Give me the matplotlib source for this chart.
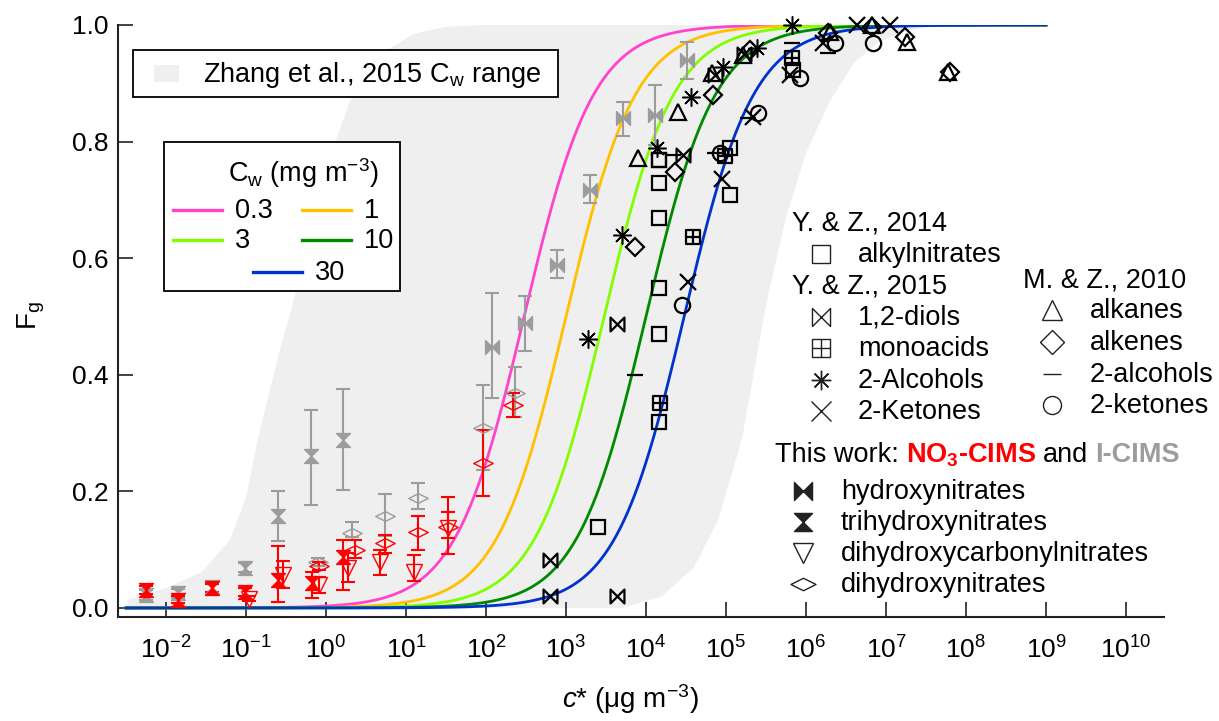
import numpy as np
import matplotlib
matplotlib.use('Agg')
import matplotlib.pyplot as plt
from matplotlib.path import Path
from matplotlib.patches import Rectangle
from matplotlib.lines import Line2D
from matplotlib.ticker import FixedLocator, FuncFormatter, NullLocator, MultipleLocator, FormatStrFormatter

plt.rcParams['font.family'] = ['Liberation Sans', 'DejaVu Sans']
plt.rcParams['mathtext.fontset'] = 'custom'
plt.rcParams['mathtext.rm'] = 'Liberation Sans'
plt.rcParams['mathtext.it'] = 'Liberation Sans:italic'
plt.rcParams['mathtext.bf'] = 'Liberation Sans:bold'

# --- model curves: Fg = 1 / (1 + Cw / c*) ---
cw_mg = [0.3, 1, 3, 10, 30]
cw_labels = ['0.3', '1', '3', '10', '30']
cw_colors = ['#ff44cc', '#ffc000', '#80ff00', '#008a00', '#0033cc']

# --- Zhang et al. 2015 Cw range (edges as log10 c*, Fg) ---
band_left_lg = [-2.48, -2.0, -1.55, -1.2, -1.0, -0.85, -0.6, -0.4, -0.14, 0.3, 0.5, 0.8, 1.1, 1.5, 2.0]
band_left_fg = [0.014, 0.034, 0.062, 0.117, 0.19, 0.29, 0.43, 0.53, 0.70, 0.87, 0.925, 0.96, 0.985, 0.997, 1.0]
band_right_lg = [3.7, 4.2, 4.6, 4.9, 5.2, 5.5, 5.75, 6.0, 6.3, 6.6, 6.9, 7.2, 7.6, 8.0]
band_right_fg = [0.0, 0.02, 0.07, 0.15, 0.29, 0.52, 0.67, 0.78, 0.87, 0.935, 0.97, 0.988, 0.998, 1.0]

# --- Y. & Z. 2014 / 2015 (log10 c*, Fg) ---
alkylnitrate_lg = [3.40, 4.16, 4.16, 4.16, 4.16, 4.16, 4.16, 4.16, 5.05, 5.05, 5.84]
alkylnitrate_fg = [0.139, 0.319, 0.47, 0.549, 0.669, 0.729, 0.768, 0.768, 0.789, 0.708, 0.923]
diol_lg = [2.8, 2.8, 3.64, 3.64, 4.46, 4.86, 5.22]
diol_fg = [0.082, 0.021, 0.021, 0.487, 0.777, 0.915, 0.95]
monoacid_lg = [4.18, 4.59, 4.99, 5.83]
monoacid_fg = [0.351, 0.637, 0.775, 0.943]
alcohol2_lg = [3.28, 3.70, 4.14, 4.56, 4.96, 5.39, 5.83]
alcohol2_fg = [0.461, 0.64, 0.789, 0.877, 0.928, 0.96, 1.0]
ketone2_lg = [4.53, 4.95, 5.34, 5.80, 6.21, 6.64, 7.05]
ketone2_fg = [0.56, 0.736, 0.842, 0.914, 0.969, 1.0, 1.0]

# --- M. & Z. 2010 ---
alkane_lg = [3.90, 4.40, 4.83, 5.21, 6.30, 6.83, 7.26, 7.78]
alkane_fg = [0.772, 0.851, 0.918, 0.948, 0.988, 1.0, 0.971, 0.919]
alkene_lg = [3.86, 4.36, 4.84, 5.30, 6.28, 6.83, 7.24, 7.80]
alkene_fg = [0.62, 0.748, 0.88, 0.957, 0.986, 0.997, 0.979, 0.919]
mz_alcohol_lg = [3.86, 4.34, 4.86, 5.28, 5.83, 6.28]
mz_alcohol_fg = [0.40, 0.777, 0.78, 0.84, 0.969, 0.952]
mz_ketone_lg = [4.45, 4.93, 5.40, 5.93, 6.36, 6.84]
mz_ketone_fg = [0.52, 0.78, 0.849, 0.909, 0.969, 0.969]

# --- this work, I-CIMS (grey) ---
i_hn_lg = [2.08, 2.49, 2.89, 3.30, 3.71, 4.11, 4.51]
i_hn_fg = [0.448, 0.489, 0.589, 0.717, 0.840, 0.846, 0.940]
i_hn_lo = [0.36, 0.44, 0.566, 0.695, 0.81, 0.795, 0.907]
i_hn_hi = [0.54, 0.535, 0.614, 0.743, 0.868, 0.897, 0.971]
i_thn_lg = [-2.25, -1.85, -1.43, -1.01, -0.60, -0.19, 0.21]
i_thn_fg = [0.022, 0.025, 0.036, 0.069, 0.158, 0.26, 0.288]
i_thn_lo = [0.014, 0.017, 0.028, 0.061, 0.115, 0.177, 0.202]
i_thn_hi = [0.030, 0.033, 0.044, 0.077, 0.20, 0.34, 0.375]
i_dhn_lg = [-0.10, 0.32, 0.74, 1.15, 1.96, 2.36]
i_dhn_fg = [0.079, 0.129, 0.158, 0.189, 0.309, 0.369]
i_dhn_lo = [0.072, 0.122, 0.124, 0.17, 0.236, 0.328]
i_dhn_hi = [0.086, 0.148, 0.196, 0.214, 0.382, 0.413]

# --- this work, NO3-CIMS (red) ---
n_thn_lg = [-2.25, -1.85, -1.43, -1.01, -0.60, -0.18, 0.21]
n_thn_fg = [0.031, 0.014, 0.034, 0.028, 0.048, 0.043, 0.087]
n_thn_lo = [0.024, 0.008, 0.027, 0.021, 0.010, 0.017, 0.030]
n_thn_hi = [0.038, 0.020, 0.041, 0.035, 0.106, 0.062, 0.117]
n_dhcn_lg = [-0.96, -0.54, -0.09, 0.28, 0.68, 1.10, 1.53]
n_dhcn_fg = [0.016, 0.057, 0.039, 0.068, 0.078, 0.062, 0.137]
n_dhcn_lo = [0.012, 0.035, 0.025, 0.045, 0.057, 0.046, 0.093]
n_dhcn_hi = [0.020, 0.080, 0.053, 0.095, 0.100, 0.090, 0.190]
n_dhn_lg = [-0.09, 0.36, 0.74, 1.15, 1.53, 1.96, 2.34]
n_dhn_fg = [0.072, 0.10, 0.111, 0.13, 0.139, 0.249, 0.348]
n_dhn_lo = [0.065, 0.085, 0.094, 0.10, 0.12, 0.192, 0.328]
n_dhn_hi = [0.079, 0.117, 0.125, 0.158, 0.164, 0.305, 0.369]

GREY = '#9c9c9c'
RED = '#ff0000'
BAND = '#efefef'

# custom marker shapes
M, L, C = Path.MOVETO, Path.LINETO, Path.CLOSEPOLY
bowtie = Path([(-1, -1), (-1, 1), (1, -1), (1, 1), (-1, -1)], [M, L, L, L, C])
hourglass = Path([(-1, 1), (1, 1), (-1, -1), (1, -1), (-1, 1)], [M, L, L, L, C])
flat_diamond = Path([(-1, 0), (0, 0.5), (1, 0), (0, -0.5), (-1, 0)], [M, L, L, L, C])
boxplus = Path([(-1, -1), (1, -1), (1, 1), (-1, 1), (-1, -1), (0, -1), (0, 1), (-1, 0), (1, 0)],
               [M, L, L, L, C, M, L, M, L])
asterisk = (8, 2, 0)

W, H = 1219, 721
fig = plt.figure(figsize=(W / 100, H / 100), dpi=100)
ax = fig.add_axes([118 / W, 1 - 617 / H, (1164 - 118) / W, (617 - 25) / H])

# grey band
bx = [band_left_lg[0]] + band_left_lg + band_right_lg[::-1]
by = [0.0] + band_left_fg + band_right_fg[::-1]
ax.fill(10 ** np.array(bx), by, color=BAND, lw=0, zorder=0)

# partitioning curves
cstar = np.logspace(-2.5, 9, 500)
for cw, col in zip(cw_mg, cw_colors):
    ax.plot(cstar, 1 / (1 + cw * 1000 / cstar), color=col, lw=2.0, zorder=2)


def scatter(lg, fg, marker, ms, mfc='none', mew=1.6, color='black'):
    ax.plot(10 ** np.array(lg), fg, ls='none', marker=marker, ms=ms, mec=color,
            mfc=mfc, mew=mew, zorder=6, clip_on=False)


def witherr(lg, fg, lo, hi, marker, ms, color, filled):
    x = 10 ** np.array(lg)
    fg = np.array(fg)
    yerr = [fg - np.array(lo), np.array(hi) - fg]
    ax.errorbar(x, fg, yerr=yerr, fmt='none', ecolor=color, elinewidth=1.5,
                capsize=5, capthick=1.5, zorder=4)
    ax.plot(x, fg, ls='none', marker=marker, ms=ms, mec=color,
            mfc=color if filled else 'none', mew=1.0, zorder=5)


# I-CIMS first, NO3-CIMS on top
witherr(i_hn_lg, i_hn_fg, i_hn_lo, i_hn_hi, bowtie, 10, GREY, True)
witherr(i_thn_lg, i_thn_fg, i_thn_lo, i_thn_hi, hourglass, 10, GREY, True)
witherr(i_dhn_lg, i_dhn_fg, i_dhn_lo, i_dhn_hi, flat_diamond, 14, GREY, False)
witherr(n_thn_lg, n_thn_fg, n_thn_lo, n_thn_hi, hourglass, 10, RED, True)
witherr(n_dhcn_lg, n_dhcn_fg, n_dhcn_lo, n_dhcn_hi, 'v', 11, RED, False)
witherr(n_dhn_lg, n_dhn_fg, n_dhn_lo, n_dhn_hi, flat_diamond, 14, RED, False)

scatter(alkylnitrate_lg, alkylnitrate_fg, 's', 10.5)
scatter(diol_lg, diol_fg, bowtie, 10)
scatter(monoacid_lg, monoacid_fg, boxplus, 10.5)
scatter(alcohol2_lg, alcohol2_fg, asterisk, 13, mew=1.1)
scatter(ketone2_lg, ketone2_fg, 'x', 12)
scatter(alkane_lg, alkane_fg, '^', 12)
scatter(alkene_lg, alkene_fg, 'D', 9)
scatter(mz_alcohol_lg, mz_alcohol_fg, '_', 12)
scatter(mz_ketone_lg, mz_ketone_fg, 'o', 11)

# axes
ax.set_xscale('log')
ax.set_xlim(10 ** -2.6, 10 ** 10.475)
ax.set_ylim(-0.0155, 1.0)
ax.xaxis.set_major_locator(FixedLocator([10.0 ** k for k in range(-2, 11)]))
ax.xaxis.set_major_formatter(FuncFormatter(lambda v, p: r'$\mathdefault{10^{%d}}$' % round(np.log10(v))))
ax.xaxis.set_minor_locator(NullLocator())
ax.yaxis.set_major_locator(MultipleLocator(0.2))
ax.yaxis.set_major_formatter(FormatStrFormatter('%.1f'))
ax.tick_params(axis='both', direction='in', length=11, width=1.2, labelsize=19, color='#222222')
ax.tick_params(axis='x', pad=14)
ax.tick_params(axis='y', pad=7)
for side in ['top', 'right']:
    ax.spines[side].set_visible(False)
for side in ['left', 'bottom']:
    ax.spines[side].set_linewidth(1.5)
    ax.spines[side].set_color('#222222')

ax.set_ylabel(r'F$_\mathrm{g}$', fontsize=20)
ax.yaxis.set_label_coords(-0.068, 0.51)
ax.set_xlabel(r'$\mathit{c}$* (μg m$^{-3}$)', fontsize=20)
ax.xaxis.set_label_coords(0.49, -0.11)


# legend helpers in pixel space
def fx(px):
    return px / W


def fy(py):
    return 1 - py / H


def key(px, py, marker, ms, mfc='none', mew=1.0):
    fig.add_artist(Line2D([fx(px)], [fy(py)], ls='none', marker=marker, ms=ms,
                          mec='#222222', mfc=mfc, mew=mew, zorder=10))


def label(px, py, s, size=19.5, **kw):
    return fig.text(fx(px), fy(py), s, fontsize=size, va='baseline', zorder=10, **kw)


def box(x0, y0, x1, y1):
    fig.add_artist(Rectangle((fx(x0), fy(y1)), fx(x1) - fx(x0), fy(y0) - fy(y1),
                             facecolor='white', edgecolor='black', lw=1.3, zorder=9))


# Zhang et al. range box
box(133, 50, 558, 97)
fig.add_artist(Rectangle((fx(154), fy(82)), fx(179) - fx(154), fy(65) - fy(82),
                         facecolor=BAND, lw=0, zorder=10))
label(203, 82, r'Zhang et al., 2015 C$_\mathrm{w}$ range')

# Cw curve key
box(164, 142, 400, 291)
label(228, 182, r'C$_\mathrm{w}$ (mg m$^{-3}$)')
key_pos = [(173, 210), (302, 210), (173, 240), (302, 240), (253, 272)]
for (px, py), txt, col in zip(key_pos, cw_labels, cw_colors):
    fig.add_artist(Line2D([fx(px), fx(px + 49)], [fy(py), fy(py)], color=col, lw=2.4, zorder=10))
    label(px + 62, py + 8, txt)

# reference data key
label(792, 230, 'Y. & Z., 2014')
key(821, 254, 's', 13)
label(858, 262, 'alkylnitrates')
label(792, 293, 'Y. & Z., 2015')
for py, mk, ms, txt in [(317, bowtie, 13, '1,2-diols'), (348, boxplus, 13, 'monoacids'),
                        (380, asterisk, 14, '2-Alcohols'), (411, 'x', 14, '2-Ketones')]:
    key(821, py, mk, ms)
    label(858, py + 8, txt)

label(1023, 287, 'M. & Z., 2010')
for py, mk, ms, txt in [(310, '^', 14, 'alkanes'), (342, 'D', 12, 'alkenes'),
                        (374, '_', 13, '2-alcohols'), (405, 'o', 13, '2-ketones')]:
    key(1052, py, mk, ms)
    label(1090, py + 8, txt)

# this work key, with coloured instrument names
t = label(775, 462, 'This work:')
for txt, col, bold in [(r'NO$_\mathbf{3}$-CIMS', RED, True), ('and', 'black', False), ('I-CIMS', GREY, True)]:
    t = ax.annotate(txt, xy=(1, fy(462)), xycoords=(t, 'figure fraction'),
                    xytext=(5, 0), textcoords='offset points', fontsize=19.5,
                    va='baseline', color=col, fontweight='bold' if bold else 'normal',
                    annotation_clip=False, zorder=10)
for py, mk, ms, mfc, txt in [(491, bowtie, 13, '#222222', 'hydroxynitrates'),
                             (522, hourglass, 13, '#222222', 'trihydroxynitrates'),
                             (553, 'v', 14, 'none', 'dihydroxycarbonylnitrates'),
                             (584, flat_diamond, 18, 'none', 'dihydroxynitrates')]:
    key(803, py, mk, ms, mfc=mfc)
    label(841, py + 8, txt)

fig.savefig('out.png', dpi=100, facecolor='white')
